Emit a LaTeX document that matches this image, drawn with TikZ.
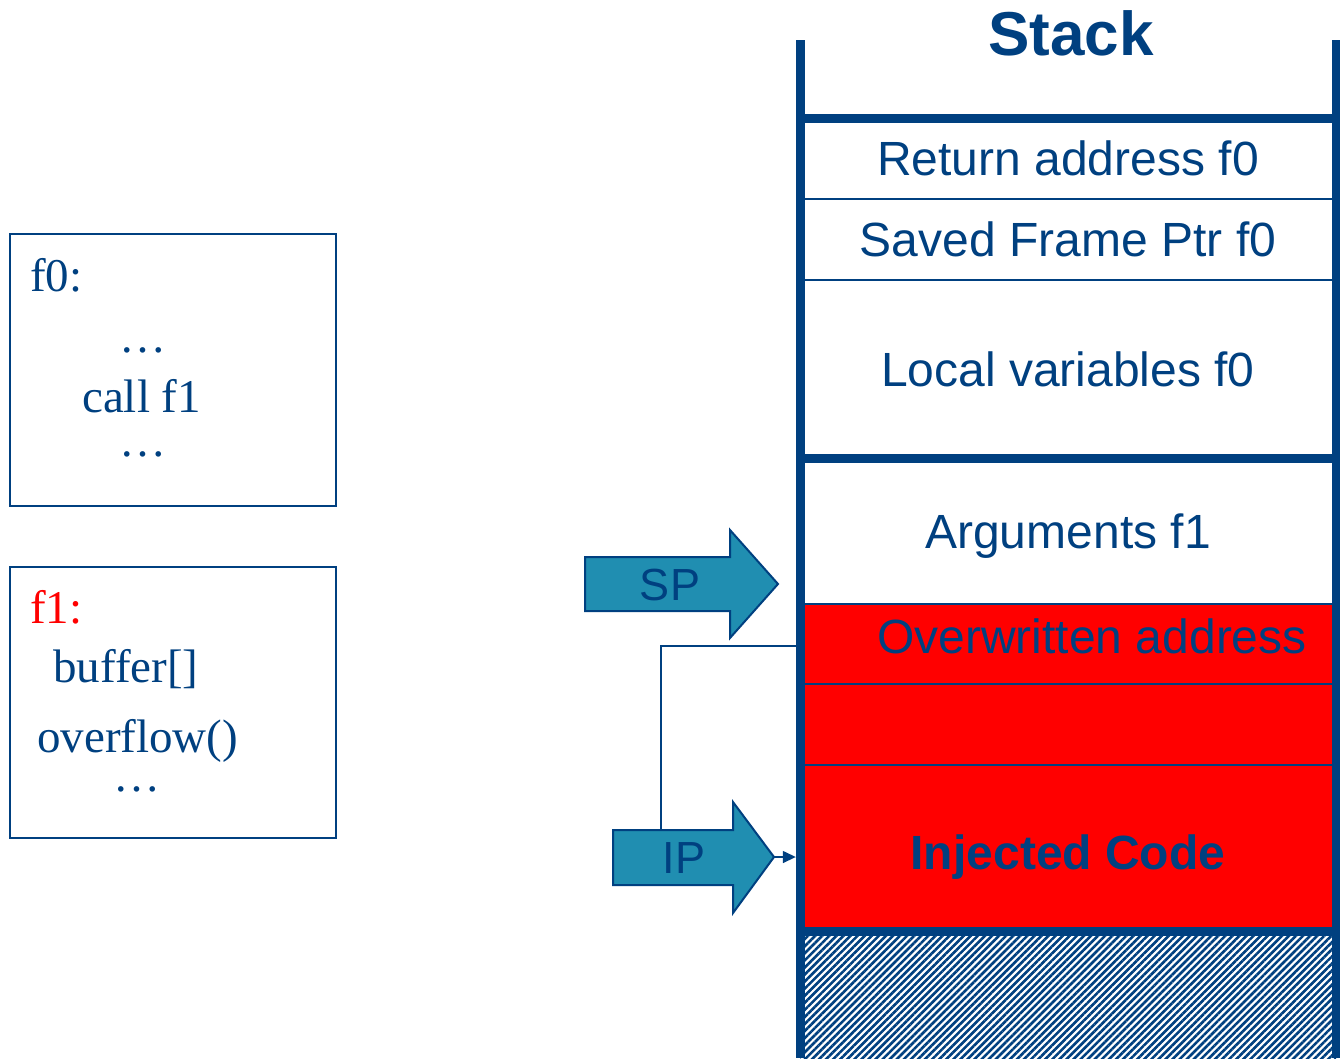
\documentclass[tikz,border=0pt]{standalone}
\usepackage{fontspec}
\setmainfont{Liberation Serif}
\setsansfont{Liberation Sans}
\usetikzlibrary{arrows.meta,patterns.meta}
\definecolor{navy}{RGB}{0,64,128}
\definecolor{ptrfill}{RGB}{32,142,177}
\definecolor{hot}{RGB}{255,0,0}
\begin{document}
\begin{tikzpicture}[x=1pt,y=-1pt,
  cell/.style={rectangle, minimum width=536pt, inner sep=0pt, anchor=north,
    font=\sffamily\fontsize{48pt}{56pt}\selectfont, text=navy,
    text height=34.4pt, text depth=0pt},
  thinrule/.style={draw=navy, line width=2pt},
  thickrule/.style={draw=navy, line width=9pt},
  wall/.style={draw=navy, line width=9pt},
  codebox/.style={draw=navy, line width=2pt},
  code/.style={font=\rmfamily\fontsize{47pt}{56pt}\selectfont, text=navy, anchor=base west, inner sep=0pt},
  dots/.style={font=\rmfamily\fontsize{47pt}{56pt}\selectfont, text=navy, anchor=base, inner sep=0pt,
    text height=6pt, text depth=0pt},
  pointer/.style={fill=ptrfill, draw=navy, line width=2pt, line join=miter},
  ptrlabel/.style={font=\sffamily\fontsize{45pt}{54pt}\selectfont, text=navy, inner sep=0pt,
    text height=32.2pt, text depth=0pt},
  link/.style={draw=navy, line width=1.5pt}]
\useasboundingbox (0,0) rectangle (1340,1058);

% ---- stack cells ----
\node[cell, minimum height=81pt]  (ret)   at (1068,118) {Return address f0};
\node[cell, minimum height=81pt]  (saved) at (1068,199) {Saved Frame Ptr f0};
\node[cell, minimum height=178pt] (local) at (1068,280) {Local variables f0};
\node[cell, minimum height=146pt] (args)  at (1068,458) {Arguments f1};
\node[cell, minimum height=80pt, fill=hot, text depth=16pt] (over) at (1068,604) {\hspace*{48pt}Overwritten address};
\node[cell, minimum height=81pt, fill=hot]  (blank) at (1068,684) {};
\node[cell, minimum height=166pt, fill=hot, text height=42.4pt,
  font=\sffamily\bfseries\fontsize{48pt}{56pt}\selectfont] (inj) at (1068,765) {Injected Code};
\node[cell, minimum height=127pt, pattern={Lines[angle=45,distance=5pt,line width=2.6pt]}, pattern color=navy] (free) at (1068,931) {};

% thin dividers between cells
\draw[thinrule] (ret.south west) -- (ret.south east);
\draw[thinrule] (saved.south west) -- (saved.south east);
\draw[thinrule] (args.south west) -- (args.south east);
\draw[thinrule] (over.south west) -- (over.south east);
\draw[thinrule] (blank.south west) -- (blank.south east);

% thick frame boundaries
\draw[thickrule] (ret.north west) -- (ret.north east);
\draw[thickrule] (local.south west) -- (local.south east);
\draw[thickrule] (inj.south west) -- (inj.south east);

% stack walls
\draw[wall] (800,40) -- (800,1058);
\draw[wall] (1336,40) -- (1336,1058);

% title
\node[font=\sffamily\bfseries\fontsize{62pt}{70pt}\selectfont, text=navy, inner sep=0pt] (title) at (1071,33) {Stack};

% ---- code boxes ----
\draw[codebox] (10,234) rectangle (336,506);
\node[code] (f0lbl) at (30,291) {f0:};
\node[dots] (f0dotsa) at (143,352) {…};
\node[code] (call) at (82,412) {call f1};
\node[dots] (f0dotsb) at (143,456) {…};

\draw[codebox] (10,567) rectangle (336,838);
\node[code, text=hot] (f1lbl) at (30,623) {f1:};
\node[code] (buf) at (53,682) {buffer[]};
\node[code] (ovf) at (37,752) {overflow()};
\node[dots] (f1dots) at (137,791) {…};

% ---- SP and IP pointers ----
\path[pointer] (585,557) -- (730,557) -- (730,530) -- (778,584) -- (730,638) -- (730,611) -- (585,611) -- cycle;
\node[ptrlabel] (sp) at (670,584) {SP};

\path[pointer] (613,830) -- (733,830) -- (733,802) -- (774,857) -- (733,913) -- (733,885) -- (613,885) -- cycle;
\node[ptrlabel] (ip) at (684,857) {IP};
\coordinate (iptop) at (661,830);
\coordinate (iptip) at (774,857);

% overwritten return address feeds the instruction pointer
\draw[link] ([yshift=-2pt]over.west) -| (iptop);
\draw[link, -{Triangle[length=13pt,width=12pt]}, shorten >=4pt] (iptip) -- (inj.west |- iptip);
\end{tikzpicture}
\end{document}
